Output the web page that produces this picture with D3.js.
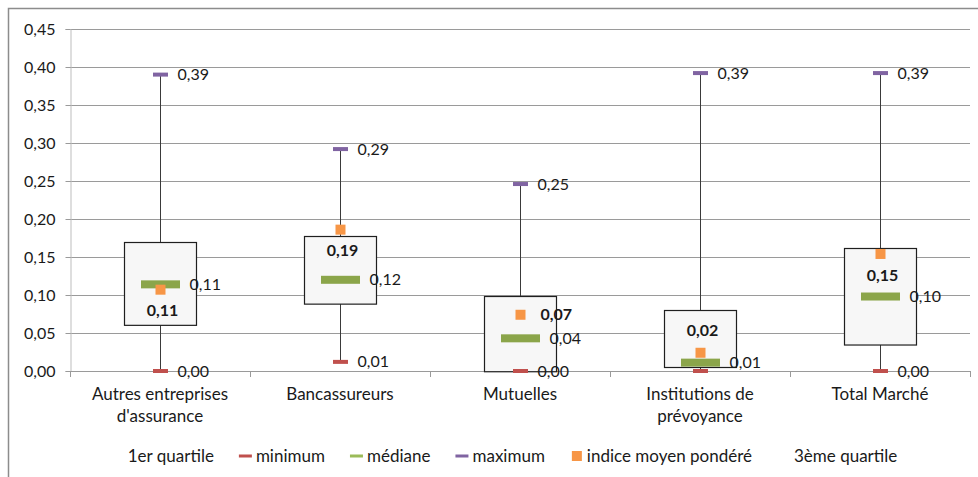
<!DOCTYPE html>
<html><head><meta charset="utf-8">
<script src="https://cdn.jsdelivr.net/npm/d3@7/dist/d3.min.js"></script>
<style>
html,body{margin:0;padding:0;background:#fff;}
text{font-family:Lato,"Open Sans",sans-serif;fill:#1a1a1a;}
</style></head>
<body>
<svg id="chart" width="978" height="477"></svg>
<script>
// ---- data ----
const categories = [["Autres entreprises","d'assurance"],["Bancassureurs"],["Mutuelles"],["Institutions de","prévoyance"],["Total Marché"]];
const q1      = [0.061, 0.088, 0.000, 0.005, 0.035];
const q3      = [0.170, 0.177, 0.099, 0.080, 0.162];
const minimum = [0.000, 0.012, 0.000, 0.000, 0.000];
const median  = [0.114, 0.120, 0.043, 0.011, 0.098];
const maximum = [0.390, 0.292, 0.246, 0.392, 0.392];
const indice  = [0.107, 0.186, 0.074, 0.024, 0.154];
const minLabelShown = [true, true, true, false, true];
const indiceLabelPlace = ["below","below","right","above","below"];
const yTicks = [0,0.05,0.10,0.15,0.20,0.25,0.30,0.35,0.40,0.45];
const legendItems = [
  {name:"1er quartile", sym:"none"},
  {name:"minimum", sym:"dash", color:"#c0504d"},
  {name:"médiane", sym:"dash", color:"#9bbb59"},
  {name:"maximum", sym:"dash", color:"#8064a2"},
  {name:"indice moyen pondéré", sym:"square", color:"#f79646"},
  {name:"3ème quartile", sym:"none"}
];

const fmt = v => d3.format(".2f")(v).replace(".", ",");
const svg = d3.select("#chart");

// outer chart border
svg.append("rect").attr("x",8.5).attr("y",8.5).attr("width",1000).attr("height",500)
  .attr("fill","none").attr("stroke","#8c8c8c").attr("stroke-width",1.5);

const x = d3.scaleBand().domain(d3.range(categories.length)).range([70,970]);
const y = d3.scaleLinear().domain([0,0.45]).range([371,29]);

// gridlines
svg.append("g").selectAll("line").data(yTicks.filter(d=>d>0)).join("line")
  .attr("x1",70).attr("x2",970).attr("y1",d=>Math.round(y(d))+0.5).attr("y2",d=>Math.round(y(d))+0.5)
  .attr("stroke","#9a9a9a").attr("stroke-width",1);

// y axis
const yAxis = svg.append("g").attr("transform","translate(70.5,0)")
  .call(d3.axisLeft(y).tickValues(yTicks).tickFormat(fmt).tickSize(5).tickPadding(10));
yAxis.select(".domain").attr("stroke","#bdbdbd");
yAxis.selectAll(".tick line").attr("stroke","#9a9a9a");
yAxis.selectAll(".tick text").style("font-size","16px").attr("fill","#1a1a1a");
yAxis.selectAll(".tick").attr("transform", d=>`translate(0,${Math.round(y(d))+0.5})`);

// x axis line + ticks at band boundaries
svg.append("line").attr("x1",70).attr("x2",970).attr("y1",371.5).attr("y2",371.5).attr("stroke","#9a9a9a");
const bounds = d3.range(categories.length+1).map(i=>70+i*x.step());
svg.append("g").selectAll("line").data(bounds).join("line")
  .attr("x1",d=>Math.round(d)+0.5).attr("x2",d=>Math.round(d)+0.5).attr("y1",371).attr("y2",377)
  .attr("stroke","#9a9a9a");

// category labels
const catG = svg.append("g");
categories.forEach((lines,i)=>{
  const t = catG.append("text").attr("x",x(i)+x.bandwidth()/2).attr("y",400)
    .attr("text-anchor","middle").style("font-size","17px");
  lines.forEach((l,j)=>t.append("tspan").attr("x",x(i)+x.bandwidth()/2).attr("dy", j===0?0:22).text(l));
});

const cx = i => Math.round(x(i)+x.bandwidth()/2)+0.5;
const boxW = x.bandwidth()*0.4;
const idx = d3.range(categories.length);

// whiskers
svg.append("g").selectAll("line").data(idx).join("line")
  .attr("x1",cx).attr("x2",cx).attr("y1",i=>y(maximum[i])).attr("y2",i=>y(minimum[i]))
  .attr("stroke","#3a3a3a").attr("stroke-width",1);

// boxes
svg.append("g").selectAll("rect").data(idx).join("rect")
  .attr("x",i=>cx(i)-boxW/2).attr("width",boxW)
  .attr("y",i=>Math.round(y(q3[i]))+0.5).attr("height",i=>y(q1[i])-y(q3[i]))
  .attr("fill","#f7f7f7").attr("stroke","#1f1f1f").attr("stroke-width",1.2);

// min markers
svg.append("g").selectAll("rect").data(idx).join("rect")
  .attr("x",i=>cx(i)-7.5).attr("width",15).attr("y",i=>y(minimum[i])-2).attr("height",4)
  .attr("fill","#c0504d");
// max markers
svg.append("g").selectAll("rect").data(idx).join("rect")
  .attr("x",i=>cx(i)-7.5).attr("width",15).attr("y",i=>y(maximum[i])-2).attr("height",4)
  .attr("fill","#8064a2");
// median markers
svg.append("g").selectAll("rect").data(idx).join("rect")
  .attr("x",i=>cx(i)-19.5).attr("width",39).attr("y",i=>y(median[i])-4).attr("height",8)
  .attr("fill","#8ba54a");
// indice markers
svg.append("g").selectAll("rect").data(idx).join("rect")
  .attr("x",i=>cx(i)-5).attr("width",10).attr("y",i=>y(indice[i])-5).attr("height",10)
  .attr("fill","#f79646");

// labels
const lab = svg.append("g").style("font-size","16px");
idx.forEach(i=>{
  lab.append("text").attr("x",cx(i)+17).attr("y",y(maximum[i])).attr("dy","0.35em").text(fmt(maximum[i]));
  if(minLabelShown[i]) lab.append("text").attr("x",cx(i)+17).attr("y",y(minimum[i])).attr("dy","0.35em").text(fmt(minimum[i]));
  lab.append("text").attr("x",cx(i)+29).attr("y",y(median[i])).attr("dy","0.35em").text(fmt(median[i]));
  const p = indiceLabelPlace[i];
  const t = lab.append("text").style("font-weight","bold").attr("dy","0.35em").text(fmt(indice[i]));
  if(p==="right") t.attr("x",cx(i)+20).attr("y",y(indice[i]));
  else t.attr("x",cx(i)+2).attr("text-anchor","middle").attr("y",y(indice[i]) + (p==="below"?21:-22));
});

// legend
const lg = svg.append("g").style("font-size","17px");
let lx = 0;
legendItems.forEach(it=>{
  const g = lg.append("g");
  if(it.sym==="dash") g.append("rect").attr("x",0).attr("y",-1.5).attr("width",13).attr("height",3).attr("fill",it.color);
  if(it.sym==="square") g.append("rect").attr("x",2).attr("y",-5).attr("width",10).attr("height",10).attr("fill",it.color);
  const t = g.append("text").attr("x",17).attr("dy","0.35em").text(it.name);
  const w = 17 + t.node().getComputedTextLength();
  g.attr("transform",`translate(${lx},0)`);
  lx += w + 25;
});
const totalW = lx - 25;
lg.attr("transform",`translate(${504 - totalW/2},456)`);
</script>
</body></html>
